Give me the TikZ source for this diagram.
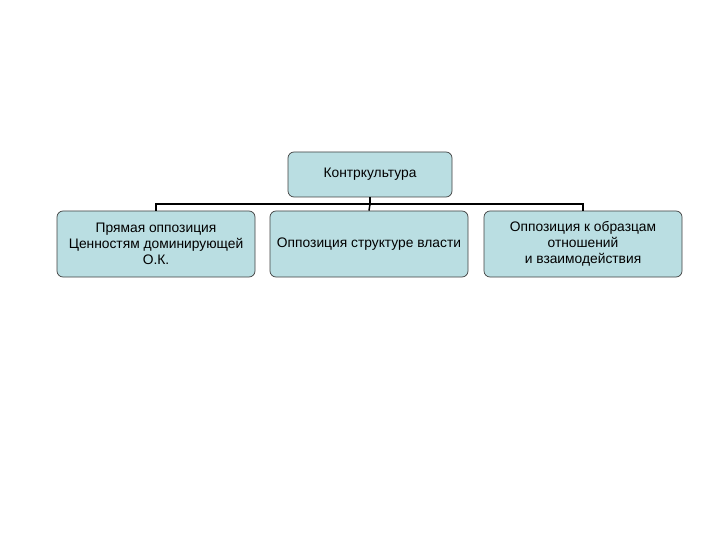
\documentclass[tikz,border=0pt]{standalone}
\usepackage{fontspec}
\setmainfont{Liberation Sans}
\definecolor{boxfill}{RGB}{186,222,226}
\tikzset{
  topicbox/.style={draw=black!75, fill=boxfill, rounded corners=6pt, line width=0.7pt,
    align=center, inner sep=0pt, font=\fontsize{13.8}{16.2}\selectfont},
  link/.style={draw=black, line width=1.5pt}
}
\begin{document}
\begin{tikzpicture}[x=1pt,y=-1pt]
\useasboundingbox (0,0) rectangle (720,540);
\node[topicbox, minimum width=164pt, minimum height=45pt] (root) at (370, 174.5) {Контркультура};
\node[topicbox, minimum width=198pt, minimum height=66pt] (direct) at (156, 244) {Прямая оппозиция\\Ценностям доминирующей\\О.К.};
\node[topicbox, minimum width=198pt, minimum height=66pt] (power) at (369, 244) {Оппозиция структуре власти};
\node[topicbox, minimum width=198pt, minimum height=66pt] (relations) at (583, 244) {Оппозиция к образцам\\отношений\\и взаимодействия};
\coordinate (bar) at (370, 204);
\draw[link] (root.south) -- (bar);
\draw[link] (bar) -| (direct.north);
\draw[link] (bar) -| (relations.north);
\draw[link] (bar) -- (power.north);
\end{tikzpicture}
\end{document}
